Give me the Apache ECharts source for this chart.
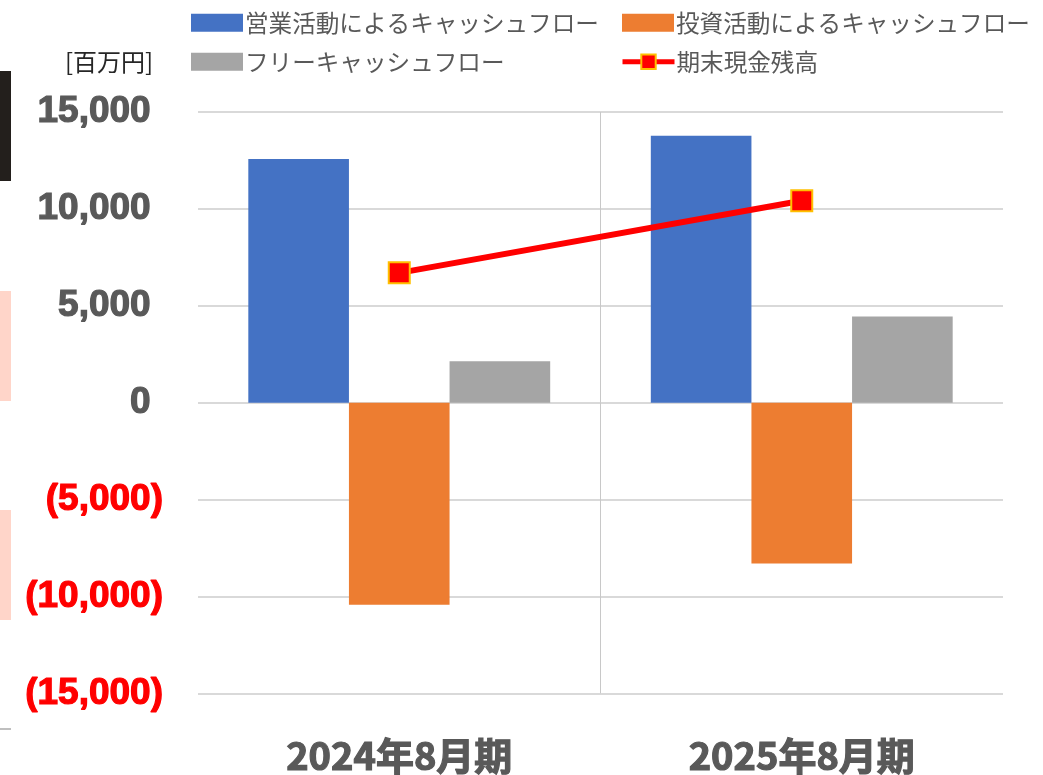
<!DOCTYPE html>
<html>
<head>
<meta charset="utf-8">
<script src="https://cdn.jsdelivr.net/npm/echarts@6/dist/echarts.min.js"></script>
<style>
  html, body { margin: 0; padding: 0; background: #fff; }
  #chart { width: 1043px; height: 775px; }
</style>
</head>
<body>
<div id="chart"></div>
<script>
// data (百万円)
const categories = ['2024年8月期', '2025年8月期']
const operatingCF = [12580, 13770]
const investingCF = [-10420, -8300]
const freeCF = [2140, 4450]
const cashBalance = [6700, 10420]
const seriesNames = ['営業活動によるキャッシュフロー', '投資活動によるキャッシュフロー', 'フリーキャッシュフロー', '期末現金残高']

const numFont = "'Liberation Sans', Arial, 'Noto Sans CJK JP', sans-serif"
const jpFont = "'Noto Sans CJK JP', 'Liberation Sans', sans-serif"

function fmt(v) {
  return Math.abs(v).toLocaleString('en-US')
}

const legendText = { fontSize: 23.6, color: '#595959', fontFamily: jpFont, padding: [0, 0, 0, -3] }

function legendAt(name, left, top, icon) {
  return {
    data: [{ name: name, icon: icon }],
    left: left,
    top: top,
    itemWidth: 52,
    itemHeight: 18,
    itemGap: 0,
    selectedMode: false,
    lineStyle: { width: 5 },
    textStyle: legendText
  }
}

// heavier strokes, the reference labels are very bold
function heavy(color, size, family) {
  return {
    fontSize: size, fontWeight: 'bold', color: color, fontFamily: family,
    textBorderColor: color, textBorderWidth: 1.2
  }
}

const chart = echarts.init(document.getElementById('chart'))
chart.setOption({
  animation: false,
  title: {
    text: '[百万円]',
    left: 60,
    top: 45,
    textStyle: { fontSize: 24, fontWeight: 'normal', color: '#262626', fontFamily: jpFont }
  },
  legend: [
    legendAt(seriesNames[0], 186, 6, 'rect'),
    legendAt(seriesNames[1], 617, 6, 'rect'),
    legendAt(seriesNames[2], 186, 45, 'rect'),
    legendAt(seriesNames[3], 615, 45)
  ],
  grid: { left: 198, right: 40, top: 112, bottom: 80 },
  xAxis: {
    type: 'category',
    data: categories,
    axisLine: { show: false, onZero: false },
    axisTick: { show: false },
    splitLine: {
      show: true,
      showMinLine: false,
      showMaxLine: false,
      lineStyle: { color: '#C8C8C8', width: 1 }
    },
    axisLabel: Object.assign({ margin: 43 }, heavy('#595959', 38, jpFont))
  },
  yAxis: {
    type: 'value',
    min: -15000,
    max: 15000,
    interval: 5000,
    axisLine: { show: false },
    axisTick: { show: false },
    splitLine: { lineStyle: { color: '#D9D9D9', width: 2 } },
    axisLabel: {
      margin: 35,
      formatter: function (v) {
        if (v < 0) return '{r|(' + fmt(v) + ')}'
        return '{n|' + fmt(v) + '}{h|)}'
      },
      rich: {
        n: heavy('#595959', 37, numFont),
        r: heavy('#FF0000', 37, numFont),
        h: { fontSize: 37, fontWeight: 'bold', color: 'rgba(0,0,0,0)', fontFamily: numFont }
      }
    }
  },
  series: [
    {
      name: seriesNames[0],
      type: 'bar',
      barGap: '0%',
      barCategoryGap: '25%',
      itemStyle: { color: '#4472C4' },
      data: operatingCF
    },
    {
      name: seriesNames[1],
      type: 'bar',
      itemStyle: { color: '#ED7D31' },
      data: investingCF
    },
    {
      name: seriesNames[2],
      type: 'bar',
      itemStyle: { color: '#A5A5A5' },
      data: freeCF
    },
    {
      name: seriesNames[3],
      type: 'line',
      symbol: 'rect',
      symbolSize: 21,
      z: 5,
      lineStyle: { color: '#FF0000', width: 6 },
      itemStyle: { color: '#FF0000', borderColor: '#FFC000', borderWidth: 2 },
      data: cashBalance
    }
  ],
  // slide remnants at the left edge
  graphic: [
    { type: 'rect', left: 0, top: 71, shape: { width: 11, height: 110 }, style: { fill: '#231F1C' } },
    { type: 'rect', left: 0, top: 291, shape: { width: 11, height: 110 }, style: { fill: '#FFD5C9' } },
    { type: 'rect', left: 0, top: 510, shape: { width: 11, height: 110 }, style: { fill: '#FFD5C9' } },
    { type: 'rect', left: 0, top: 728, shape: { width: 11, height: 2 }, style: { fill: '#BFBFBF' } }
  ]
})
</script>
</body>
</html>
